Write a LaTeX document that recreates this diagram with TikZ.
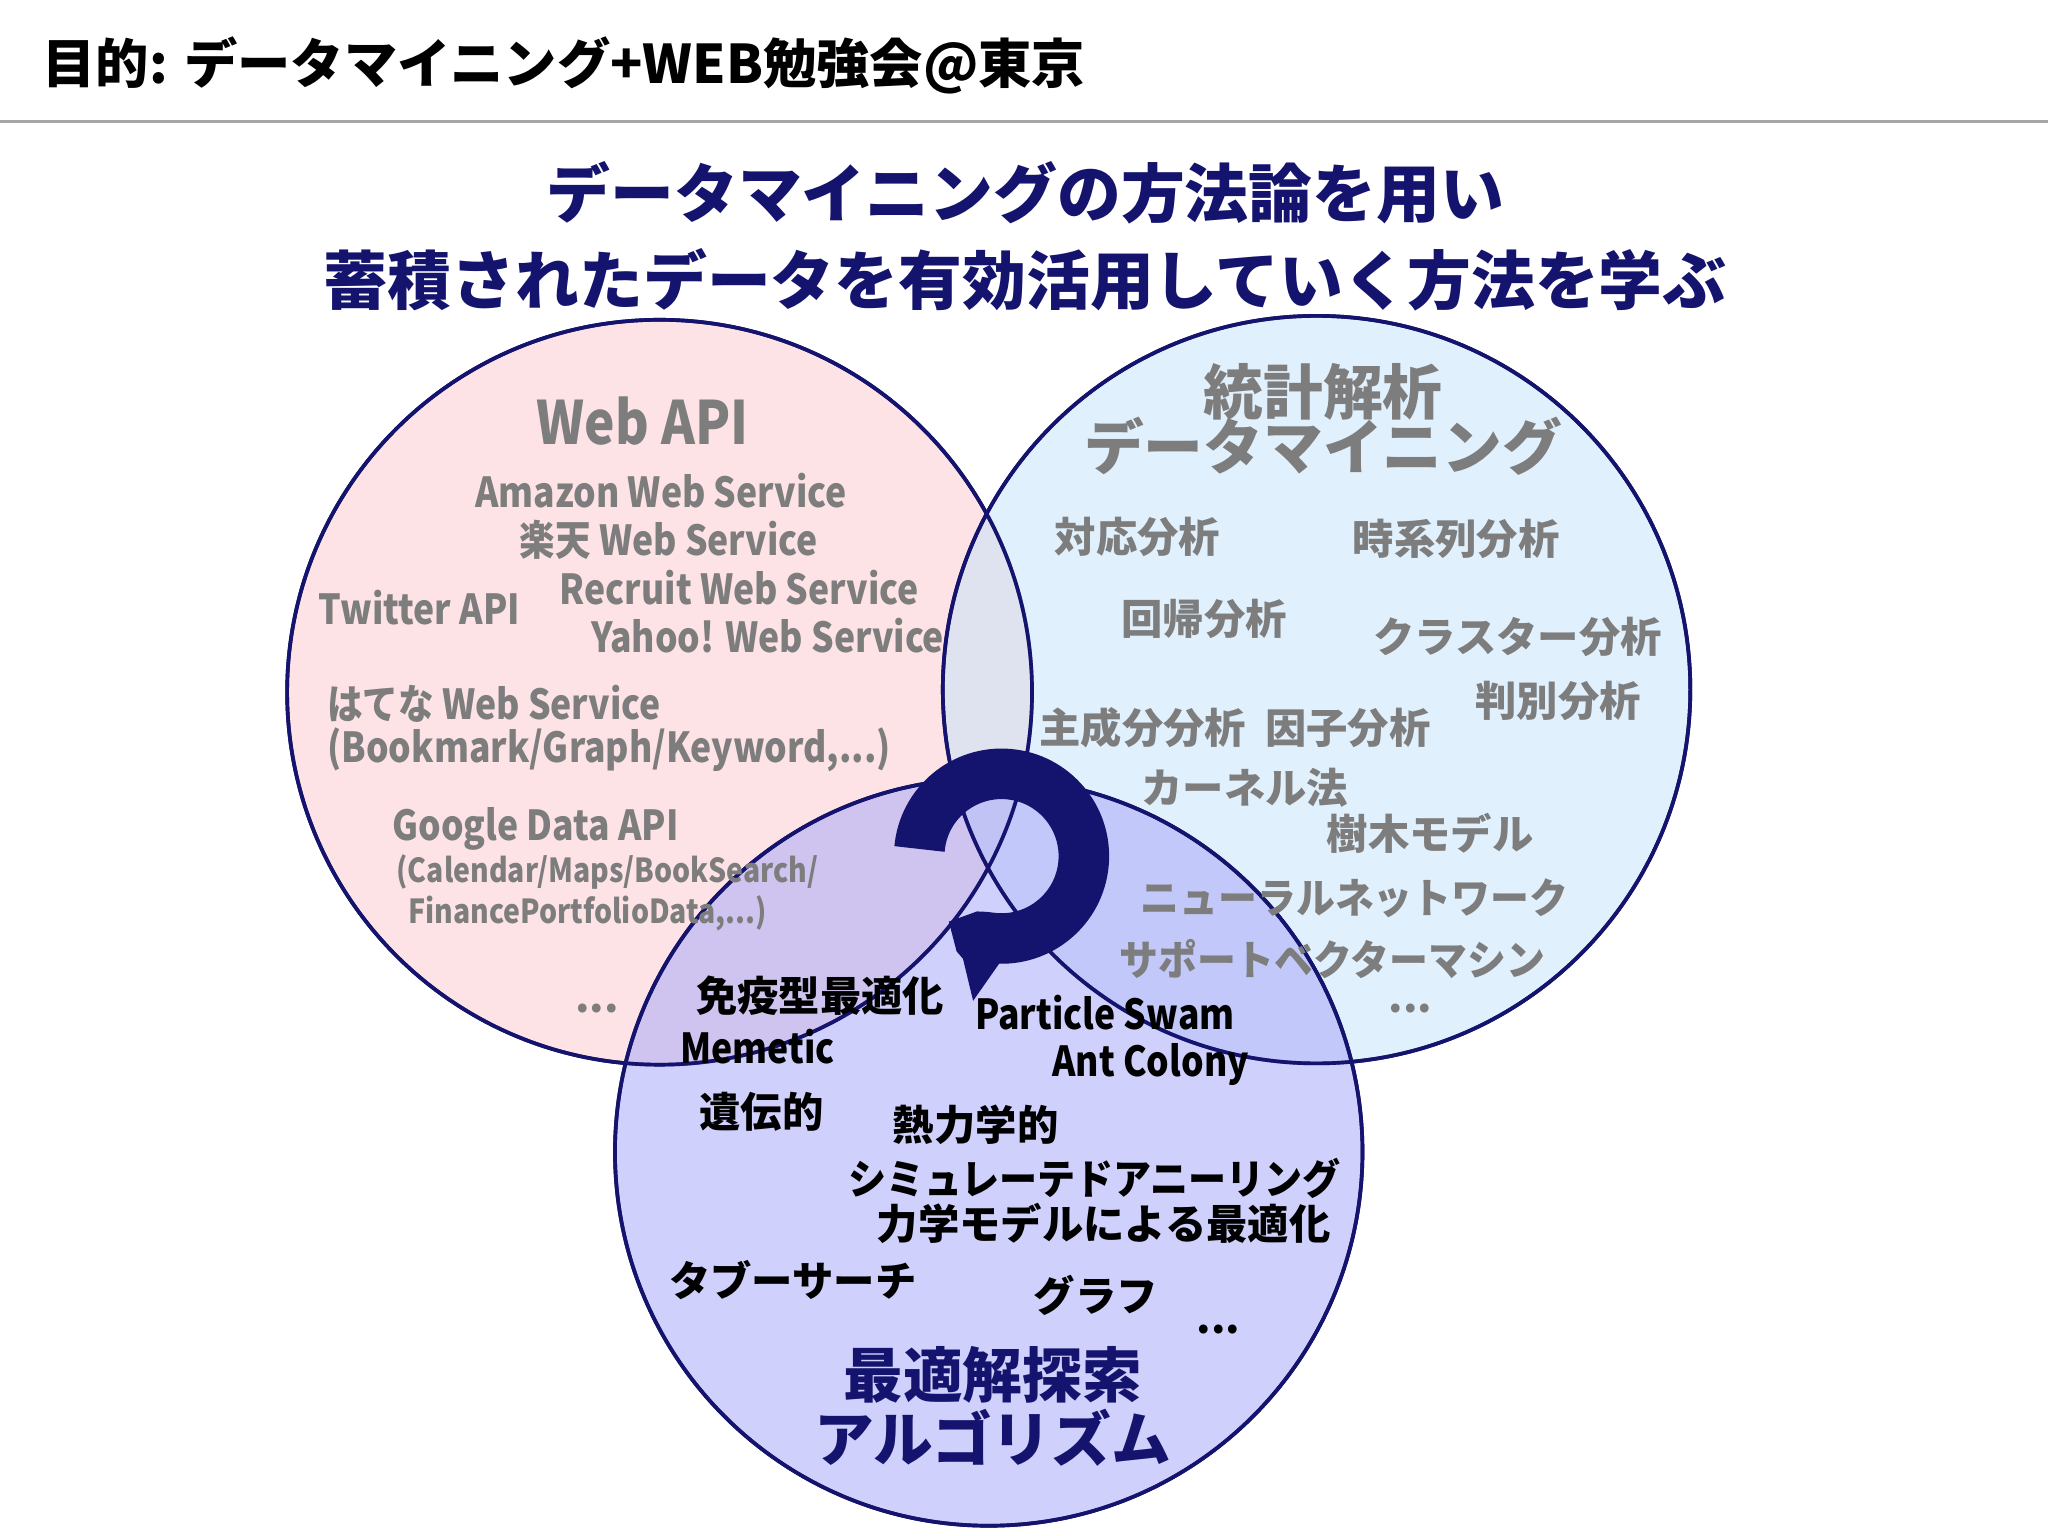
\documentclass[tikz,border=0pt]{standalone}
\usepackage{fontspec}
\setmainfont{Noto Sans CJK JP}
\usetikzlibrary{arrows.meta}
\definecolor{navy}{RGB}{20,20,110}
\definecolor{gr}{RGB}{125,125,125}
\definecolor{pk}{RGB}{252,205,210}
\definecolor{lb}{RGB}{200,228,250}
\definecolor{lv}{RGB}{170,170,250}
\tikzset{
 circ/.style={draw=navy,line width=0.8pt,fill opacity=0.55},
 g/.style={text=gr,font=\bfseries\fontsize{9}{10}\selectfont,inner sep=0pt},
 gs/.style={text=gr,font=\bfseries\fontsize{7.2}{8}\selectfont,inner sep=0pt},
 gb/.style={text=gr,font=\bfseries\fontsize{13}{14}\selectfont,inner sep=0pt},
 k/.style={text=black,font=\bfseries\fontsize{9}{10}\selectfont,inner sep=0pt},
 nb/.style={text=navy,font=\bfseries\fontsize{13}{14}\selectfont,inner sep=0pt},
 lat/.style={xscale=0.86},
}
\begin{document}
\begin{tikzpicture}[x=0.01cm,y=-0.01cm]
\useasboundingbox[fill=white] (0,0) rectangle (1568,1176);
\node[anchor=west,inner sep=0pt,font=\bfseries\fontsize{11.6}{13}\selectfont] (title) at (32,50) {目的: データマイニング+WEB勉強会@東京};
\draw[gray!70,line width=0.6pt] (0,93) coordinate (l1) -- (1568,93) coordinate (l2);
\node[text=navy,font=\bfseries\fontsize{13.9}{17}\selectfont,align=center] (head) at (785,181) {データマイニングの方法論を用い\\[2pt]蓄積されたデータを有効活用していく方法を学ぶ};
\path[circ,fill=pk] (505,530) circle[radius=2.85cm];
\path[circ,fill=lb] (1008,528) circle[radius=2.86cm];
\path[circ,fill=lv] (757,882) circle[radius=2.86cm];
\draw[navy,line width=0.8pt] (505,530) circle[radius=2.85cm] (1008,528) circle[radius=2.86cm] (757,882) circle[radius=2.86cm];
% cycle icon
\draw[navy,line width=11pt,-{Triangle[length=13pt,width=22pt]}] (704,650) arc[start angle=175,end angle=-125,radius=0.63cm];
% left
\node[gb,lat] (wa) at (492,322) {Web API};
\node[g,lat] (a1) at (506,376) {Amazon Web Service};
\node[g,lat] (a2) at (512,413) {楽天 Web Service};
\node[g,lat] (a3) at (566,450) {Recruit Web Service};
\node[g,lat] (a4) at (588,487) {Yahoo! Web Service};
\node[g,lat] (a5) at (321,465) {Twitter API};
\node[g,lat,anchor=west] (a6) at (250,539) {はてな Web Service};
\node[g,lat,anchor=west] (a7) at (250,574) {(Bookmark/Graph/Keyword,...)};
\node[g,lat] (a8) at (410,635) {Google Data API};
\node[gs,lat,anchor=west] (a9) at (303,668) {(Calendar/Maps/BookSearch/};
\node[gs,lat,anchor=west] (a10) at (312,699) {FinancePortfolioData,...)};
\node[g] (a11) at (457,772) {...};
% right
\node[gb,align=center] (st) at (1013,321) {統計解析\\[-2pt]データマイニング};
\node[g] (b1) at (871,411) {対応分析};
\node[g] (b2) at (1115,413) {時系列分析};
\node[g] (b3) at (922,474) {回帰分析};
\node[g] (b4) at (1162,488) {クラスター分析};
\node[g] (b5) at (1193,537) {判別分析};
\node[g] (b6) at (875,557) {主成分分析};
\node[g] (b7) at (1032,557) {因子分析};
\node[g] (b8) at (953,603) {カーネル法};
\node[g] (b9) at (1095,638) {樹木モデル};
\node[g,xscale=0.94] (b10) at (1037,688) {ニューラルネットワーク};
\node[g,xscale=0.94] (b11) at (1020,734) {サポートベクターマシン};
\node[g] (b12) at (1080,772) {...};
% bottom
\node[k] (c1) at (628,762) {免疫型最適化};
\node[k,lat] (c2) at (580,801) {Memetic};
\node[k,lat] (c3) at (846,775) {Particle Swam};
\node[k,lat] (c4) at (881,815) {Ant Colony};
\node[k] (c5) at (583,851) {遺伝的};
\node[k] (c6) at (747,861) {熱力学的};
\node[k,xscale=0.92] (c7) at (838,902) {シミュレーテドアニーリング};
\node[k] (c8) at (845,937) {力学モデルによる最適化};
\node[k] (c9) at (607,980) {タブーサーチ};
\node[k] (c10) at (839,992) {グラフ};
\node[k] (c11) at (933,1018) {...};
\node[nb,align=center] (alg) at (760,1077) {最適解探索\\[0pt]アルゴリズム};
\end{tikzpicture}
\end{document}
